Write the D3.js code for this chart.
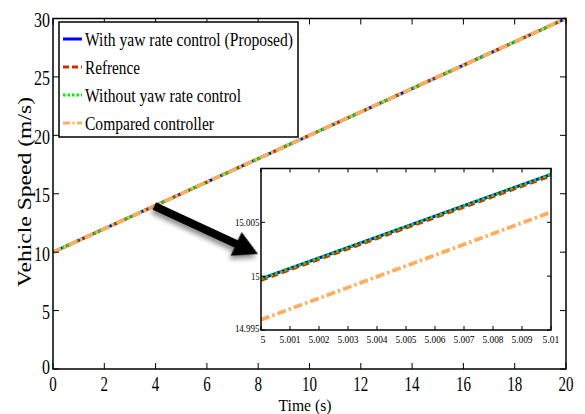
<!DOCTYPE html>
<html><head><meta charset="utf-8">
<script src="https://cdn.jsdelivr.net/npm/d3@7"></script>
<style>body{margin:0;background:#fff}svg{display:block}</style>
</head><body>
<svg id="c" width="585" height="414"></svg>
<script>
// ---- data ----
const timeMain = [0, 20];
const speedProposed = [10, 30];
const speedReference = [10, 30];
const speedWithout = [10, 30];
const speedCompared = [10, 30];

const timeInset = [5, 5.01];
const insetProposed = [14.99975, 15.00945];
const insetReference = [14.99962, 15.00932];
const insetWithout = [14.99975, 15.00945];
const insetCompared = [14.99595, 15.00595];

const xTicksMain = [0,2,4,6,8,10,12,14,16,18,20];
const yTicksMain = [0,5,10,15,20,25,30];
const xTicksInset = [5,5.001,5.002,5.003,5.004,5.005,5.006,5.007,5.008,5.009,5.01];
const yTicksInset = [14.995,15,15.005,15.01];

const seriesNames = ["With yaw rate control (Proposed)","Refrence","Without yaw rate control","Compared controller"];
const colors = ["#0000ff","#d42a00","#00ee00","#ffad60"];
const dashes = [null,"7,4","2.5,2.5","9,3,2.5,3"];
const widths = [3,3,3,3.8];

const FONT = "'Liberation Serif','Times New Roman','DejaVu Serif','Liberation Sans Narrow','DejaVu Sans Condensed',serif";
const svg = d3.select("#c").attr("font-family", FONT);

// text helper: fits text to a measured width from the reference
function txt(g, x, y, s, size, len, anchor){
  const t = g.append("text").attr("x",x).attr("y",y).attr("font-size",size)
    .attr("text-anchor",anchor||"start").text(s);
  if (len) t.attr("textLength",len).attr("lengthAdjust","spacingAndGlyphs");
  return t;
}

const defs = svg.append("defs");
const f = defs.append("filter").attr("id","sh").attr("x","-20%").attr("y","-20%").attr("width","150%").attr("height","160%");
f.append("feGaussianBlur").attr("in","SourceAlpha").attr("stdDeviation",2.5).attr("result","b");
f.append("feOffset").attr("in","b").attr("dx",0).attr("dy",4).attr("result","o");
f.append("feComponentTransfer").attr("in","o").attr("result","o2").append("feFuncA").attr("type","linear").attr("slope",0.45);
const fm = f.append("feMerge"); fm.append("feMergeNode").attr("in","o2"); fm.append("feMergeNode").attr("in","SourceGraphic");

const L=53,R=566,T=18.5,B=369;
const x = d3.scaleLinear().domain([0,20]).range([L,R]);
const y = d3.scaleLinear().domain([0,30]).range([B,T]);

function drawSeries(g, xs, ys, tArr, vals){
  vals.forEach((v,i)=>{
    const pts = tArr.map((t,j)=>[xs(t), ys(v[j])]);
    g.append("path").attr("d", d3.line()(pts)).attr("fill","none")
      .attr("stroke",colors[i]).attr("stroke-width",widths[i])
      .attr("stroke-dasharray",dashes[i]);
  });
}

// main lines
const gm = svg.append("g");
drawSeries(gm, x, y, timeMain, [speedProposed,speedReference,speedWithout,speedCompared]);

// main frame & ticks
svg.append("rect").attr("x",L).attr("y",T).attr("width",R-L).attr("height",B-T).attr("fill","none").attr("stroke","#000").attr("stroke-width",1.5);
const tl=6;
const gt = svg.append("g");
xTicksMain.forEach(t=>{
  svg.append("line").attr("x1",x(t)).attr("x2",x(t)).attr("y1",B).attr("y2",B-tl).attr("stroke","#000");
  svg.append("line").attr("x1",x(t)).attr("x2",x(t)).attr("y1",T).attr("y2",T+tl).attr("stroke","#000");
  const s = String(t);
  txt(gt, x(t), B+22, s, 20, 7.5*s.length, "middle");
});
yTicksMain.forEach(t=>{
  svg.append("line").attr("x1",L).attr("x2",L+tl).attr("y1",y(t)).attr("y2",y(t)).attr("stroke","#000");
  svg.append("line").attr("x1",R).attr("x2",R-tl).attr("y1",y(t)).attr("y2",y(t)).attr("stroke","#000");
  const s = String(t);
  txt(gt, L-3, t===0?y(t)+5:y(t)+8.5, s, 20, 8*s.length, "end");
});
txt(svg, 305, 411, "Time (s)", 17, 53, "middle");
txt(svg.append("g").attr("transform","translate(31,192) rotate(-90)"), 0, 0, "Vehicle Speed (m/s)", 19, 190, "middle");

// legend
const lg = svg.append("g");
lg.append("rect").attr("x",59).attr("y",22).attr("width",239).attr("height",115).attr("fill","#fff").attr("stroke","#000").attr("stroke-width",1.5);
const legendLens = [208,55,156,129];
seriesNames.forEach((n,i)=>{
  const yy = 39 + i*28;
  lg.append("line").attr("x1",63).attr("x2",82).attr("y1",yy).attr("y2",yy).attr("stroke",colors[i]).attr("stroke-width",3).attr("stroke-dasharray",i===1?"6,3":i===2?"2.5,2":i===3?"7,2.5,2,2.5":null);
  txt(lg, 85, yy+6.5, n, 18, legendLens[i]);
});

// inset
const IL=261,IR=551,IT=168.5,IB=330;
const xi = d3.scaleLinear().domain([5,5.01]).range([IL,IR]);
const yi = d3.scaleLinear().domain([14.995,15.01]).range([IB,IT]);
const gi = svg.append("g");
gi.append("rect").attr("x",IL).attr("y",IT).attr("width",IR-IL).attr("height",IB-IT).attr("fill","#fff");
defs.append("clipPath").attr("id","ic").append("rect").attr("x",IL).attr("y",IT).attr("width",IR-IL).attr("height",IB-IT);
const gil = gi.append("g").attr("clip-path","url(#ic)");
drawSeries(gil, xi, yi, timeInset, [insetProposed,insetReference,insetWithout,insetCompared]);
gi.append("rect").attr("x",IL).attr("y",IT).attr("width",IR-IL).attr("height",IB-IT).attr("fill","none").attr("stroke","#000").attr("stroke-width",1.5);
xTicksInset.forEach(t=>{
  gi.append("line").attr("x1",xi(t)).attr("x2",xi(t)).attr("y1",IB).attr("y2",IB-4).attr("stroke","#000");
  gi.append("line").attr("x1",xi(t)).attr("x2",xi(t)).attr("y1",IT).attr("y2",IT+4).attr("stroke","#000");
  const s = String(t);
  txt(gi, t===5?xi(t)+2:xi(t), IB+13, s, 10.5, s.length===1?5:s.length*4.2, "middle");
});
yTicksInset.forEach(t=>{
  gi.append("line").attr("x1",IL).attr("x2",IL+4).attr("y1",yi(t)).attr("y2",yi(t)).attr("stroke","#000");
  gi.append("line").attr("x1",IR).attr("x2",IR-4).attr("y1",yi(t)).attr("y2",yi(t)).attr("stroke","#000");
  if(t<15.01){
    const s = t===15?"15":String(t);
    txt(gi, IL-1.5, t===14.995?yi(t)+2:yi(t)+4, s, 10.5, s.length*4.1, "end");
  }
});

// arrow
const ax1=x(3.95), ay1=y(13.95), ax2=258, ay2=254;
const ang = Math.atan2(ay2-ay1, ax2-ax1);
const len = Math.hypot(ax2-ax1, ay2-ay1);
const hl=24, hw=13, sw=4;
const pts = [[0,-sw],[len-hl,-sw],[len-hl,-hw],[len,0],[len-hl,hw],[len-hl,sw],[0,sw]];
svg.append("path").attr("transform",`translate(${ax1},${ay1}) rotate(${ang*180/Math.PI})`)
  .attr("d", d3.line()(pts)+"Z").attr("fill","#000").attr("filter","url(#sh)");
</script>
</body></html>
